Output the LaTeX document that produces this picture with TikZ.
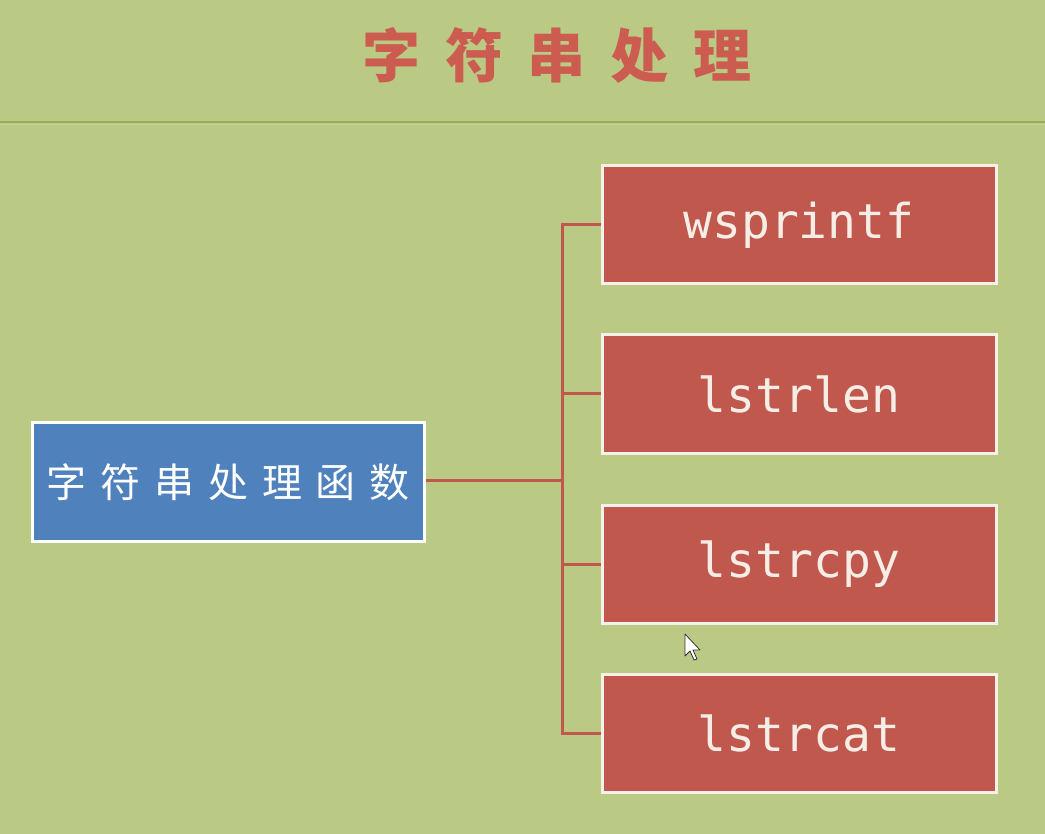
\documentclass[tikz,border=0pt]{standalone}
\usepackage{fontspec}
\newfontfamily\cjk{Noto Sans CJK SC}
\newfontfamily\mono{DejaVu Sans Mono}
\definecolor{bg}{RGB}{186,202,132}
\definecolor{rule}{RGB}{150,176,88}
\definecolor{rulelight}{RGB}{200,214,150}
\definecolor{redbox}{RGB}{192,88,78}
\definecolor{bluebox}{RGB}{79,129,189}
\definecolor{titlered}{RGB}{204,92,80}
\definecolor{lighttext}{RGB}{246,238,230}
\definecolor{boxedge}{RGB}{246,240,232}
\tikzset{
  fnbox/.style={draw=boxedge, line width=3pt, fill=redbox, minimum width=394pt, minimum height=118pt,
    text=lighttext, font=\mono\fontsize{48}{54}\selectfont, inner sep=0pt},
  mainbox/.style={draw=white, line width=3pt, fill=bluebox, minimum width=392pt, minimum height=119pt,
    text=white, font=\cjk\fontsize{40}{46}\selectfont, inner sep=0pt},
  link/.style={draw=redbox, line width=3pt},
}
\begin{document}
\begin{tikzpicture}[x=1pt,y=-1pt]
\useasboundingbox (0,0) rectangle (1045,834);
\fill[bg] (0,0) rectangle (1045,834);
\draw[rule, line width=2pt] (0,122) -- (1045,122);
\draw[rulelight, line width=1pt] (0,125) -- (1045,125);
\node[text=titlered, font=\cjk\bfseries\fontsize{58}{64}\selectfont] (title) at (557,55)
  {字\hspace{25pt}符\hspace{25pt}串\hspace{25pt}处\hspace{25pt}理};
\node[mainbox] (main) at (228,482) {字\hspace{14pt}符\hspace{14pt}串\hspace{14pt}处\hspace{14pt}理\hspace{14pt}函\hspace{14pt}数};
\node[fnbox] (f1) at (799,225) {wsprintf};
\node[fnbox] (f2) at (799,394) {lstrlen};
\node[fnbox] (f3) at (799,564) {lstrcpy};
\node[fnbox] (f4) at (799,733) {lstrcat};
\coordinate (top) at (562,225);
\coordinate (bot) at (562,733);
\coordinate (mid) at (562,480);
\draw[link] (main.east |- mid) -- (mid);
\draw[link] (f1.west) -- (top) -- (bot) -- (f4.west);
\draw[link] (f2.west) -- (top |- f2.west);
\draw[link] (f3.west) -- (top |- f3.west);
% mouse cursor
\draw[black!80, fill=white, line width=0.8pt, line join=round]
  (685,634) -- (685,656) -- (690,651) -- (694,660) -- (697,659) -- (693,650) -- (700,650) -- cycle;
\end{tikzpicture}
\end{document}
